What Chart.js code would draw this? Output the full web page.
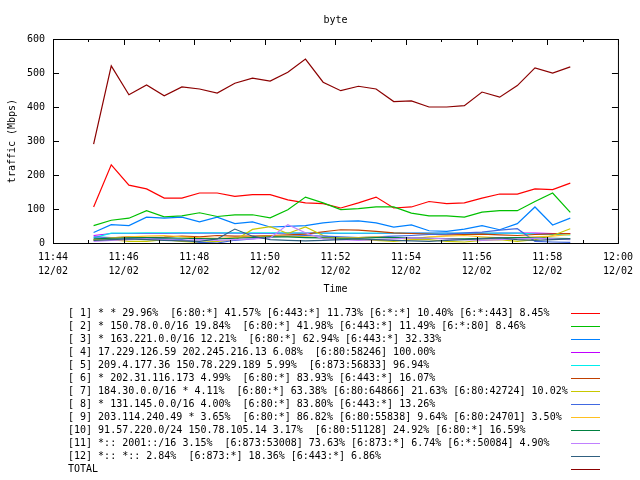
<!DOCTYPE html>
<html>
<head>
<meta charset="utf-8">
<script src="https://cdn.jsdelivr.net/npm/chart.js@4"></script>
<style>
  html, body { margin: 0; padding: 0; background: #fff; }
</style>
</head>
<body>
<canvas id="myChart" width="640" height="480"></canvas>
<script>
// sample times (every 30 s)
const times = ['11:45:09', '11:45:39', '11:46:09', '11:46:39', '11:47:09', '11:47:39', '11:48:09', '11:48:39',
    '11:49:09', '11:49:39', '11:50:09', '11:50:39', '11:51:09', '11:51:39', '11:52:09', '11:52:39',
    '11:53:09', '11:53:39', '11:54:09', '11:54:39', '11:55:09', '11:55:39', '11:56:09', '11:56:39',
    '11:57:09', '11:57:39', '11:58:09', '11:58:39'];

// traffic in Mbps, one list per legend row
const s1 = [106, 230, 170, 159, 132, 132, 147, 147, 137, 142, 142, 127, 118, 116, 103, 118, 135, 103, 106, 122, 116, 118, 132, 144, 144, 159, 157, 176];
const s2 = [51, 67, 73, 95, 77, 80, 89, 78, 83, 83, 74, 98, 135, 118, 98, 101, 106, 106, 88, 80, 80, 76, 91, 95, 95, 122, 147, 90];
const s3 = [31, 54, 51, 76, 73, 76, 62, 76, 57, 62, 47, 49, 51, 59, 64, 65, 59, 47, 53, 36, 34, 41, 51, 39, 57, 106, 53, 73];
const s4 = [22, 28, 28, 28, 28, 29, 29, 29, 29, 28, 28, 29, 29, 29, 28, 28, 28, 28, 29, 29, 29, 28, 28, 29, 29, 29, 28, 28];
const s5 = [15, 29, 29, 30, 30, 30, 30, 30, 30, 30, 30, 30, 29, 29, 29, 29, 29, 29, 29, 29, 29, 29, 29, 29, 29, 26, 25, 24];
const s6 = [10, 15, 18, 16, 17, 20, 18, 22, 20, 20, 22, 24, 26, 33, 39, 38, 34, 30, 28, 26, 24, 25, 26, 24, 22, 25, 27, 28];
const s7 = [8, 10, 5, 5, 10, 5, 2, 5, 8, 40, 48, 28, 47, 22, 12, 10, 8, 5, 10, 10, 5, 3, 8, 10, 5, 10, 22, 42];
const s8 = [18, 16, 15, 14, 12, 10, 2, 0, 8, 12, 18, 20, 22, 20, 18, 16, 18, 20, 22, 25, 26, 30, 32, 38, 42, 5, 3, 2];
const s9 = [10, 15, 18, 20, 22, 18, 15, 14, 16, 18, 20, 20, 18, 16, 15, 16, 18, 15, 12, 18, 20, 22, 18, 15, 16, 18, 20, 25];
const s10 = [12, 14, 15, 16, 15, 14, 13, 12, 14, 16, 18, 18, 16, 15, 14, 14, 16, 16, 15, 14, 13, 12, 14, 15, 16, 15, 14, 13];
const s11 = [5, 8, 10, 12, 10, 8, 10, 8, 10, 12, 15, 54, 30, 12, 10, 8, 10, 12, 15, 14, 12, 10, 8, 10, 12, 14, 12, 10];
const s12 = [8, 10, 12, 10, 8, 6, 5, 12, 41, 20, 10, 8, 6, 8, 10, 12, 10, 8, 6, 5, 8, 10, 12, 15, 10, 8, 10, 12];
const total = [291, 521, 436, 465, 433, 459, 453, 441, 470, 485, 476, 502, 541, 473, 448, 461, 453, 416, 418, 400, 400, 404, 444, 429, 463, 515, 500, 518];

const names = [
    '[ 1] * * 29.96%  [6:80:*] 41.57% [6:443:*] 11.73% [6:*:*] 10.40% [6:*:443] 8.45%',
    '[ 2] * 150.78.0.0/16 19.84%  [6:80:*] 41.98% [6:443:*] 11.49% [6:*:80] 8.46%',
    '[ 3] * 163.221.0.0/16 12.21%  [6:80:*] 62.94% [6:443:*] 32.33%',
    '[ 4] 17.229.126.59 202.245.216.13 6.08%  [6:80:58246] 100.00%',
    '[ 5] 209.4.177.36 150.78.229.189 5.99%  [6:873:56833] 96.94%',
    '[ 6] * 202.31.116.173 4.99%  [6:80:*] 83.93% [6:443:*] 16.07%',
    '[ 7] 184.30.0.0/16 * 4.11%  [6:80:*] 63.38% [6:80:64866] 21.63% [6:80:42724] 10.02%',
    '[ 8] * 131.145.0.0/16 4.00%  [6:80:*] 83.80% [6:443:*] 13.26%',
    '[ 9] 203.114.240.49 * 3.65%  [6:80:*] 86.82% [6:80:55838] 9.64% [6:80:24701] 3.50%',
    '[10] 91.57.220.0/24 150.78.105.14 3.17%  [6:80:51128] 24.92% [6:80:*] 16.59%',
    '[11] *:: 2001::/16 3.15%  [6:873:53008] 73.63% [6:873:*] 6.74% [6:*:50084] 4.90%',
    '[12] *:: *:: 2.84%  [6:873:*] 18.36% [6:443:*] 6.86%',
    'TOTAL'
];
const colors = ['#ff0000', '#00c000', '#0080ff', '#c000ff', '#00eeee', '#c04000', '#c8c800',
    '#4169e1', '#ffc020', '#008040', '#c080ff', '#306080', '#8b0000'];
const series = [s1, s2, s3, s4, s5, s6, s7, s8, s9, s10, s11, s12, total];

const startMin = 11 * 60 + 44;   // x axis starts at 11:44
const toMin = (t) => {
    const [h, m, s] = t.split(':').map(Number);
    return h * 60 + m + s / 60 - startMin;
};
const fmt = (v) => {
    const m = startMin + v;
    return String(Math.floor(m / 60) % 24).padStart(2, '0') + ':' + String(m % 60).padStart(2, '0');
};

const FONT = '"DejaVu Sans Mono", monospace';

// box with inward ticks on all four sides, like gnuplot
const frame = {
    id: 'frame',
    afterDatasetsDraw(chart) {
        const {ctx, chartArea: a, scales: {x, y}} = chart;
        ctx.save();
        ctx.strokeStyle = '#000';
        ctx.lineWidth = 1;
        ctx.strokeRect(a.left + 0.5, a.top + 0.5, a.right - a.left, a.bottom - a.top);
        ctx.beginPath();
        for (let m = x.min; m <= x.max; m++) {
            const px = Math.round(x.getPixelForValue(m)) + 0.5;
            const len = m % 2 === 0 ? 6 : 3;
            ctx.moveTo(px, a.bottom); ctx.lineTo(px, a.bottom - len);
            ctx.moveTo(px, a.top); ctx.lineTo(px, a.top + len);
        }
        y.ticks.forEach(t => {
            const py = Math.round(y.getPixelForValue(t.value)) + 0.5;
            ctx.moveTo(a.left, py); ctx.lineTo(a.left + 6, py);
            ctx.moveTo(a.right, py); ctx.lineTo(a.right - 6, py);
        });
        ctx.stroke();
        ctx.restore();
    }
};

// legend block under the plot: text on the left, line sample on the right
const legendRows = {
    id: 'legendRows',
    afterDraw(chart) {
        const ctx = chart.ctx;
        ctx.save();
        ctx.font = '10px ' + FONT;
        ctx.textBaseline = 'middle';
        ctx.textAlign = 'left';
        chart.data.datasets.forEach((ds, i) => {
            const y = 313 + i * 13;
            ctx.fillStyle = '#000';
            ctx.fillText(ds.label, 68, y);
            ctx.fillStyle = colors[i];
            ctx.fillRect(571, y, 29, 1);
        });
        ctx.restore();
    }
};

const config = {
    type: 'line',
    data: {
        datasets: series.map((vals, i) => ({
            label: names[i],
            data: vals.map((v, k) => ({x: toMin(times[k]), y: v})),
            borderColor: colors[i],
            backgroundColor: colors[i],
            borderWidth: 1.2,
            pointRadius: 0,
            fill: false,
            tension: 0,
            order: series.length - i
        }))
    },
    options: {
        responsive: false,
        animation: false,
        layout: {padding: {left: 0, right: 18, top: 0, bottom: 183}},
        plugins: {
            legend: {display: false},
            tooltip: {enabled: false},
            title: {
                display: true,
                text: 'byte',
                color: '#000',
                fullSize: false,
                font: {family: FONT, size: 10, weight: 'normal', lineHeight: 1.2},
                padding: {top: 14, bottom: 13}
            }
        },
        scales: {
            x: {
                type: 'linear',
                min: 0,
                max: 16,
                grid: {display: false, drawTicks: false, tickLength: 0},
                border: {display: false},
                ticks: {
                    stepSize: 2,
                    padding: 7,
                    color: '#000',
                    maxRotation: 0,
                    autoSkip: false,
                    font: {family: FONT, size: 10, lineHeight: 1.4},
                    callback: (v) => [fmt(v), '12/02']
                },
                title: {
                    display: true,
                    text: 'Time',
                    color: '#000',
                    font: {family: FONT, size: 10, lineHeight: 1.2},
                    padding: {top: 0, bottom: 2}
                },
                afterFit: (s) => { s.height = 54; }
            },
            y: {
                min: 0,
                max: 600,
                grid: {display: false, drawTicks: false, tickLength: 0},
                border: {display: false},
                ticks: {
                    stepSize: 100,
                    padding: 8,
                    color: '#000',
                    font: {family: FONT, size: 10}
                },
                title: {
                    display: true,
                    text: 'traffic (Mbps)',
                    color: '#000',
                    font: {family: FONT, size: 10, lineHeight: 1.2},
                    padding: {top: 6, bottom: 0}
                },
                afterFit: (s) => { s.width = 53; }
            }
        }
    },
    plugins: [frame, legendRows]
};

const myChart = new Chart(document.getElementById('myChart'), config);
</script>
</body>
</html>
